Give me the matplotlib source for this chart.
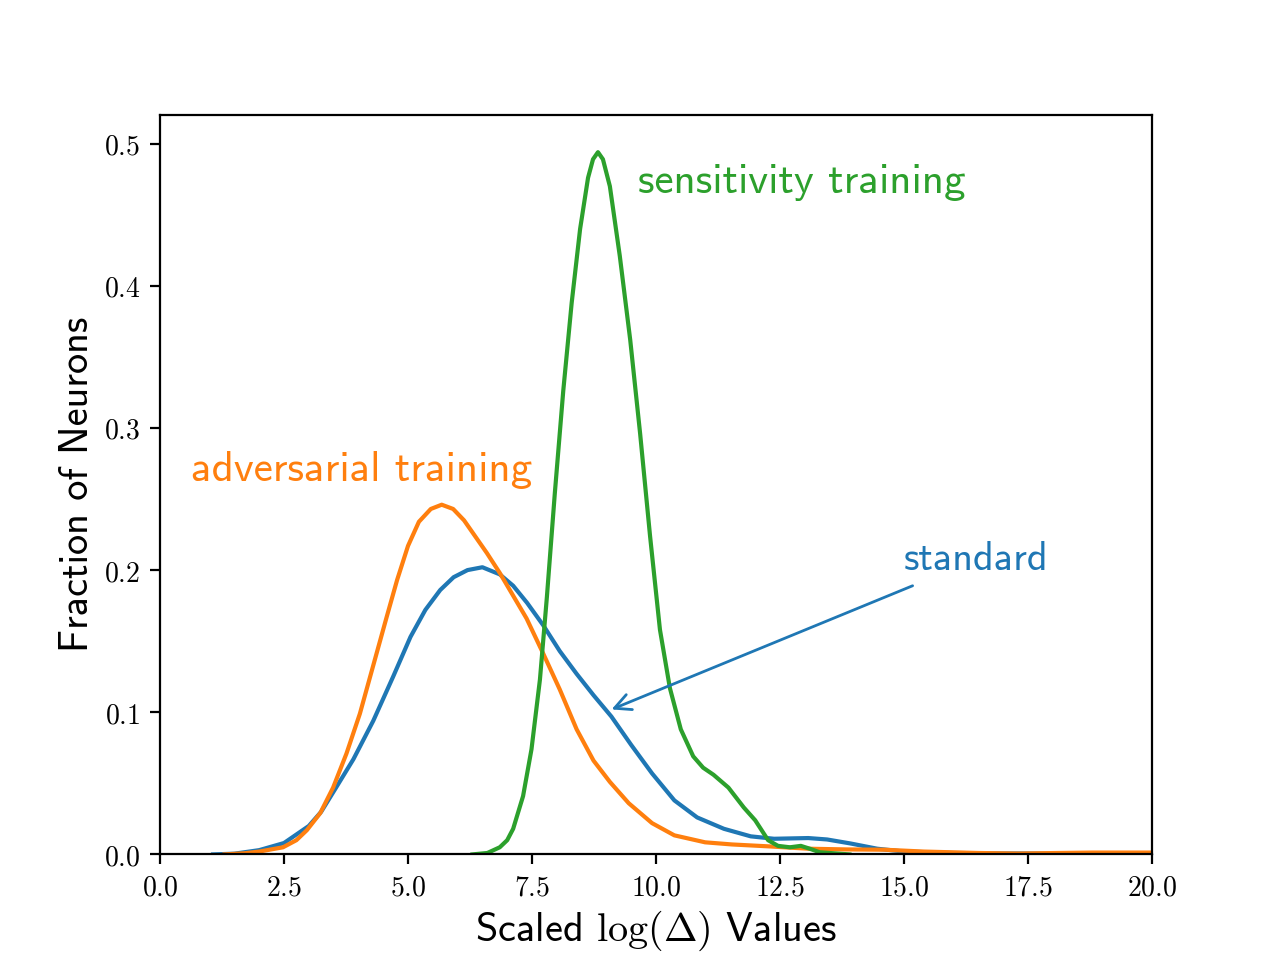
import matplotlib
matplotlib.use("Agg")
import matplotlib.pyplot as plt

plt.rcParams["mathtext.fontset"] = "cm"
plt.rcParams["axes.unicode_minus"] = False

# standard training
std_x = [1.07, 1.5, 2.0, 2.5, 3.0, 3.25, 3.55, 3.9, 4.3, 4.7, 5.05, 5.35, 5.65, 5.92, 6.2, 6.5,
         6.85, 7.12, 7.4, 7.73, 8.06, 8.4, 8.74, 9.1, 9.5, 9.92, 10.37, 10.83, 11.37, 11.91, 12.38,
         13.07, 13.45, 13.92, 14.46, 15.0, 16.0, 17.0, 18.0, 19.0, 20.0]
std_y = [0.0, 0.0005, 0.003, 0.008, 0.02, 0.03, 0.047, 0.067, 0.094, 0.125, 0.153, 0.172, 0.186, 0.195, 0.2, 0.202,
         0.197, 0.189, 0.177, 0.161, 0.143, 0.127, 0.112, 0.097, 0.077, 0.057, 0.038, 0.026, 0.018, 0.0127, 0.011,
         0.0115, 0.0105, 0.0077, 0.004, 0.002, 0.001, 0.0007, 0.0006, 0.0005, 0.0004]

# adversarial training
adv_x = [1.3, 1.7, 2.0, 2.48, 2.75, 2.96, 3.23, 3.49, 3.76, 4.03, 4.3, 4.57, 4.78, 5.0, 5.22, 5.46, 5.68,
         5.91, 6.13, 6.35, 6.59, 6.85, 7.12, 7.39, 7.73, 8.06, 8.4, 8.74, 9.07, 9.45, 9.92, 10.37, 10.99,
         11.53, 12.3, 13.07, 13.83, 14.6, 15.4, 16.5, 17.3, 18.1, 18.8, 20.0]
adv_y = [0.0, 0.0008, 0.002, 0.005, 0.01, 0.017, 0.029, 0.047, 0.071, 0.099, 0.133, 0.167, 0.193, 0.217, 0.234, 0.243, 0.246,
         0.243, 0.235, 0.224, 0.212, 0.198, 0.182, 0.166, 0.141, 0.116, 0.088, 0.066, 0.051, 0.036, 0.022, 0.0134, 0.0085,
         0.007, 0.0056, 0.004, 0.0035, 0.0033, 0.002, 0.001, 0.0006, 0.001, 0.0013, 0.0013]

# sensitivity training
sen_x = [6.3, 6.6, 6.85, 7.0, 7.12, 7.32, 7.49, 7.66, 7.8, 7.96, 8.13, 8.3, 8.47, 8.63, 8.73, 8.83, 8.93,
         9.07, 9.27, 9.48, 9.68, 9.88, 10.08, 10.28, 10.5, 10.75, 10.95, 11.16, 11.46, 11.77, 12.0, 12.26,
         12.46, 12.7, 12.92, 13.1, 13.3, 13.9]
sen_y = [0.0, 0.001, 0.005, 0.01, 0.018, 0.041, 0.074, 0.123, 0.181, 0.254, 0.326, 0.388, 0.44, 0.476, 0.489, 0.494, 0.489,
         0.47, 0.421, 0.362, 0.296, 0.224, 0.158, 0.117, 0.088, 0.069, 0.061, 0.056, 0.047, 0.033, 0.024, 0.01,
         0.006, 0.005, 0.006, 0.004, 0.0015, 0.0]

xticks = [0.0, 2.5, 5.0, 7.5, 10.0, 12.5, 15.0, 17.5, 20.0]
yticks = [0.0, 0.1, 0.2, 0.3, 0.4, 0.5]

sans = dict(family="cmss10")

fig, ax = plt.subplots(figsize=(6.4, 4.8))
ax.plot(std_x, std_y, color="C0")
ax.plot(adv_x, adv_y, color="C1")
ax.plot(sen_x, sen_y, color="C2")
ax.set_xlim(0, 20); ax.set_ylim(0, 0.52)
ax.set_xticks(xticks); ax.set_xticklabels([f"${t:.1f}$" for t in xticks])
ax.set_yticks(yticks); ax.set_yticklabels([f"${t:.1f}$" for t in yticks])
ax.set_xlabel(r"Scaled $\log(\Delta)$ Values", fontsize=14.5, labelpad=2.5, **sans)
ax.set_ylabel("Fraction of Neurons", fontsize=14.5, labelpad=3, **sans)

ax.text(9.64, 0.465, "sensitivity training", color="C2", fontsize=15.5, **sans)
ax.text(0.63, 0.263, "adversarial training", color="C1", fontsize=15.5, **sans)
ax.annotate("standard", xy=(9.0, 0.1005), xytext=(15.0, 0.2), color="C0", fontsize=14.5,
            arrowprops=dict(arrowstyle="->", color="C0", lw=1), **sans)

fig.savefig("out.png", dpi=200)
